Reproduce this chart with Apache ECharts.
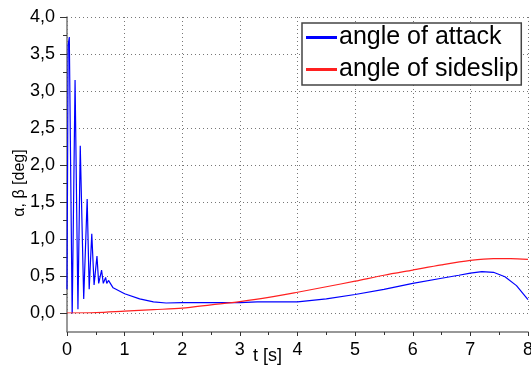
<!DOCTYPE html>
<html>
<head>
<meta charset="utf-8">
<script src="https://cdn.jsdelivr.net/npm/echarts@6/dist/echarts.min.js"></script>
<style>
  html, body { margin: 0; padding: 0; background: #fff; }
  #chart { width: 531px; height: 365px; }
</style>
</head>
<body>
<div id="chart"></div>
<script>
// angle of attack (alpha)
const tAlpha = [0, 0.02, 0.04, 0.09, 0.14, 0.19, 0.23, 0.29, 0.35, 0.385, 0.43, 0.47, 0.52, 0.55, 0.60, 0.63, 0.67, 0.69, 0.72, 0.80,
  1.0, 1.26, 1.5, 1.72, 2.0, 2.5, 3.0, 3.3, 4.0, 4.5, 5.0, 5.5, 6.0, 6.5, 6.8, 7.0, 7.2, 7.4, 7.6, 7.8, 8.0]
const alpha = [0.32, 3.62, 3.73, -0.05, 3.15, 0.05, 2.26, 0.19, 1.54, 0.32, 1.07, 0.38, 0.77, 0.40, 0.58, 0.40, 0.48, 0.40, 0.44, 0.34,
  0.26, 0.19, 0.15, 0.135, 0.14, 0.14, 0.14, 0.15, 0.15, 0.19, 0.25, 0.32, 0.40, 0.47, 0.51, 0.54, 0.56, 0.55, 0.49, 0.37, 0.18]

// angle of sideslip (beta)
const tBeta = [0, 0.5, 1, 1.5, 2, 2.5, 3, 3.5, 4, 4.5, 5, 5.5, 6, 6.5, 7, 7.4, 7.7, 8]
const beta = [0, 0.005, 0.025, 0.045, 0.065, 0.11, 0.155, 0.21, 0.28, 0.355, 0.43, 0.51, 0.58, 0.65, 0.71, 0.735, 0.735, 0.725]

const seriesNames = ['angle of attack', 'angle of sideslip']
const xTicks = { min: 0, max: 8, step: 1 }
const yTicks = { min: 0, max: 4, step: 0.5 }

const fontFamily = 'Arial, "Liberation Sans", sans-serif'
const gridLine = { show: true, lineStyle: { color: '#777', width: 1, type: [1, 3] } }

const chart = echarts.init(document.getElementById('chart'))

const option = {
  animation: false,
  backgroundColor: '#fff',
  grid: { left: 67, right: 3, top: 17, bottom: 52, outerBoundsMode: 'none' },
  legend: {
    data: seriesNames,
    orient: 'vertical',
    left: 302,
    top: 23,
    icon: 'rect',
    itemWidth: 31,
    itemHeight: 3,
    itemGap: 7,
    padding: [2, 3, 3, 4],
    backgroundColor: '#fff',
    borderColor: '#444',
    borderWidth: 1.5,
    textStyle: { fontSize: 25, color: '#000', fontFamily, padding: [0, 0, 0, -3] }
  },
  xAxis: {
    type: 'value',
    min: xTicks.min,
    max: xTicks.max,
    interval: xTicks.step,
    offset: 19,
    name: 't [s]',
    nameLocation: 'middle',
    nameGap: 15,
    nameMoveOverlap: false,
    nameTextStyle: { fontSize: 18, color: '#000', fontFamily, padding: [0, 60, 0, 0] },
    axisLine: { show: true, onZero: false, lineStyle: { color: '#777', width: 1.5 } },
    axisTick: { show: true, length: 4, lineStyle: { color: '#333' } },
    minorTick: { show: true, splitNumber: 2, length: 3, lineStyle: { color: '#333' } },
    axisLabel: { fontSize: 18, color: '#000', fontFamily, margin: 9 },
    splitLine: gridLine
  },
  yAxis: {
    type: 'value',
    min: yTicks.min,
    max: yTicks.max,
    interval: yTicks.step,
    name: 'α, β [deg]',
    nameLocation: 'middle',
    nameGap: 39,
    nameMoveOverlap: false,
    nameTextStyle: { fontSize: 16, color: '#000', fontFamily, padding: [0, 36, 0, 0] },
    axisLine: { show: true, lineStyle: { color: '#777', width: 1.5 } },
    axisTick: { show: true, length: 7, lineStyle: { color: '#333' } },
    minorTick: { show: true, splitNumber: 2, length: 4, lineStyle: { color: '#333' } },
    axisLabel: {
      fontSize: 18, color: '#000', fontFamily, margin: 12,
      formatter: v => v.toFixed(1).replace('.', ',')
    },
    splitLine: gridLine
  },
  series: [
    {
      name: seriesNames[0],
      type: 'line',
      showSymbol: false,
      data: tAlpha.map((t, i) => [t, alpha[i]]),
      lineStyle: { color: '#0000ff', width: 1.2 },
      itemStyle: { color: '#0000ff' }
    },
    {
      name: seriesNames[1],
      type: 'line',
      showSymbol: false,
      smooth: 0.3,
      data: tBeta.map((t, i) => [t, beta[i]]),
      lineStyle: { color: '#ff2020', width: 1.2 },
      itemStyle: { color: '#ff2020' }
    }
  ]
}

chart.setOption(option)

// the x axis sits below the plot, so extend the y axis line down to meet it
const corner = chart.convertToPixel({ gridIndex: 0 }, [xTicks.min, yTicks.min])
chart.setOption({
  graphic: [{
    type: 'line',
    shape: { x1: corner[0], y1: corner[1], x2: corner[0], y2: corner[1] + 19 },
    style: { stroke: '#777', lineWidth: 1.5 }
  }]
})
</script>
</body>
</html>
